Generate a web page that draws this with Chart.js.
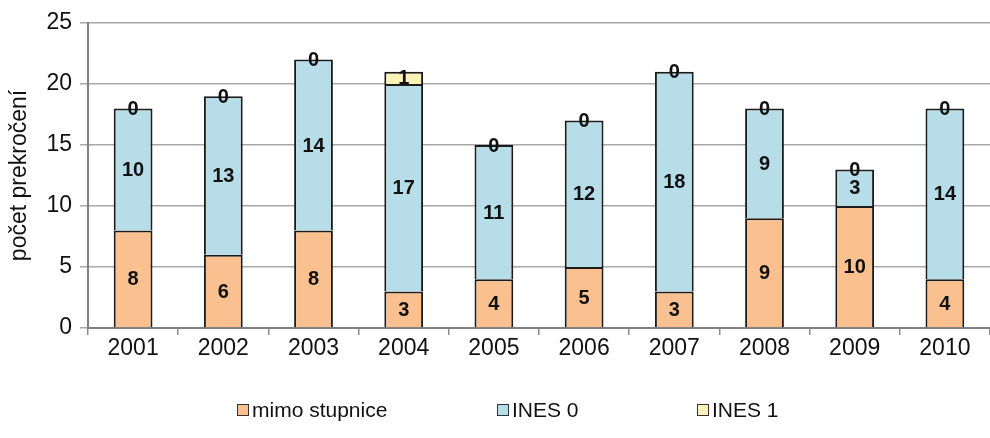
<!DOCTYPE html>
<html>
<head>
<meta charset="utf-8">
<script src="https://cdn.jsdelivr.net/npm/chart.js@4/dist/chart.umd.min.js"></script>
<style>
  html, body { margin: 0; padding: 0; background: #fff; overflow: hidden; }
  #wrap { position: relative; width: 990px; height: 438px; }
  #legend { position: absolute; left: 0; top: 396px; width: 990px; height: 28px;
            font-family: "Liberation Sans", Arial, sans-serif; font-size: 21px; color: #111; }
  .item { position: absolute; top: 0; display: flex; align-items: center; white-space: nowrap; line-height: 28px; }
  .box { width: 10px; height: 10px; border: 1.5px solid #333; margin-right: 3px; }
</style>
</head>
<body>
<div id="wrap">
  <canvas id="c" width="990" height="438"></canvas>
  <div id="legend"></div>
</div>
<script>
const years = ['2001','2002','2003','2004','2005','2006','2007','2008','2009','2010'];
const mimoStupnice = [8, 6, 8, 3, 4, 5, 3, 9, 10, 4];
const ines0 = [10, 13, 14, 17, 11, 12, 18, 9, 3, 14];
const ines1 = [0, 0, 0, 1, 0, 0, 0, 0, 0, 0];
const seriesNames = ['mimo stupnice', 'INES 0', 'INES 1'];
const seriesColors = ['#FAC090', '#B7DEE8', '#FCF2B6'];
const yTicks = [0, 5, 10, 15, 20, 25];

const FONT = '"Liberation Sans", Arial, sans-serif';

// value labels centred in each segment (zero segments sit on the bar top)
const valueLabels = {
  id: 'valueLabels',
  afterDatasetsDraw(chart) {
    const ctx = chart.ctx;
    ctx.save();
    ctx.font = 'bold 20px ' + FONT;
    ctx.fillStyle = '#111';
    ctx.textAlign = 'center';
    ctx.textBaseline = 'middle';
    chart.data.datasets.forEach((ds, i) => {
      const meta = chart.getDatasetMeta(i);
      meta.data.forEach((bar, j) => {
        const cy = (bar.y + bar.base) / 2;
        ctx.fillText(String(ds.data[j]), bar.x, cy + 1);
      });
    });
    ctx.restore();
  }
};

const datasets = [mimoStupnice, ines0, ines1].map((d, i) => ({
  label: seriesNames[i],
  data: d,
  backgroundColor: seriesColors[i],
  borderColor: '#1c1c1c',
  borderWidth: 2,
  categoryPercentage: 1,
  barPercentage: 0.43
}));

new Chart(document.getElementById('c'), {
  type: 'bar',
  data: { labels: years, datasets },
  options: {
    responsive: false,
    animation: false,
    layout: { padding: { top: 23, right: 0, bottom: 70, left: 0 } },
    plugins: { legend: { display: false }, tooltip: { enabled: false } },
    scales: {
      x: {
        stacked: true,
        offset: true,
        grid: { offset: true, drawOnChartArea: false, drawTicks: true, tickLength: 7, color: '#8c8c8c', lineWidth: 1.5 },
        border: { display: true, color: '#7f7f7f', width: 2 },
        ticks: { font: { family: FONT, size: 23 }, color: '#111', padding: 0 },
        afterFit(s) { s.height = 40; }
      },
      y: {
        stacked: true,
        min: 0, max: 25,
        afterBuildTicks(s) { s.ticks = yTicks.map(v => ({ value: v })); },
        grid: { color: '#A8A8A8', lineWidth: 1.5, tickLength: 8 },
        border: { display: true, color: '#7f7f7f', width: 2 },
        ticks: { font: { family: FONT, size: 23 }, color: '#111', padding: 8 },
        title: { display: true, text: 'počet prekročení', font: { family: FONT, size: 23 }, color: '#111', padding: { top: 6, bottom: 0 } },
        afterFit(s) { s.width = 88; }
      }
    }
  },
  plugins: [valueLabels]
});

// legend row
const legendPos = [237, 497, 697];
const leg = document.getElementById('legend');
seriesNames.forEach((name, i) => {
  const it = document.createElement('div');
  it.className = 'item';
  it.style.left = legendPos[i] + 'px';
  const b = document.createElement('span');
  b.className = 'box';
  b.style.background = seriesColors[i];
  it.appendChild(b);
  it.appendChild(document.createTextNode(name));
  leg.appendChild(it);
});
</script>
</body>
</html>
